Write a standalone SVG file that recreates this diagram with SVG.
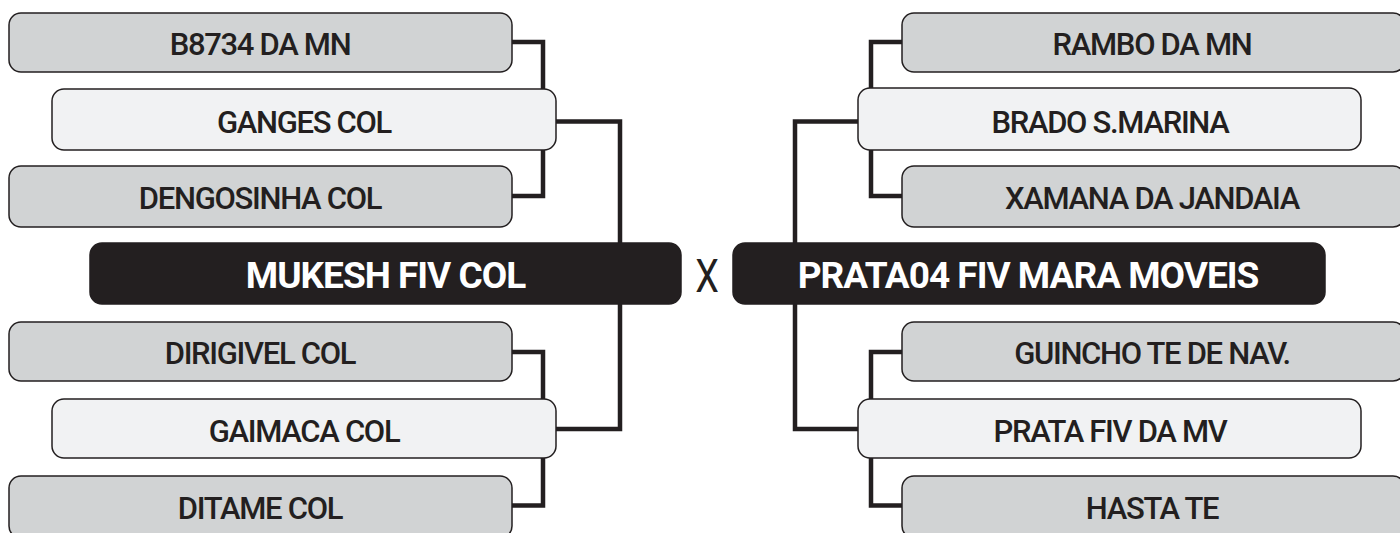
<svg xmlns="http://www.w3.org/2000/svg" width="1400" height="533" viewBox="0 0 1400 533">
<style>
.g{fill:#d1d3d4;stroke:#231f20;stroke-width:1.5}
.l{fill:#f1f2f3;stroke:#231f20;stroke-width:1.5}
.m{fill:#231f20;stroke:#231f20;stroke-width:1.5}
.t{font-family:Roboto,"Liberation Sans",sans-serif;font-weight:500;font-size:31px;fill:#231f20;text-anchor:middle;letter-spacing:-1.3px}
.tm{font-family:Roboto,"Liberation Sans",sans-serif;font-weight:700;font-size:37px;fill:#ffffff;text-anchor:middle;letter-spacing:-1px}
.c{fill:none;stroke:#231f20;stroke-width:4.5;stroke-linejoin:miter}
</style>
<rect width="1400" height="533" fill="#ffffff"/>
<g id="connectors">
<path class="c" d="M512 42H543V89M512 196H543V150M556 121.5H620V243M620 304V429H556M512 352H543V399M512 505.5H543V458"/>
<path class="c" d="M902 42H871V89M902 196H871V150M858 121.5H795V243M795 304V429H858M902 352H871V399M902 505.5H871V458"/>
</g>
<g id="n-b8734"><rect class="g" x="9" y="13" width="503" height="59" rx="12"/><text class="t" x="260" y="54.5">B8734 DA MN</text></g>
<g id="n-ganges"><rect class="l" x="52" y="89" width="504" height="61" rx="12"/><text class="t" x="304" y="132.5">GANGES COL</text></g>
<g id="n-dengosinha"><rect class="g" x="9" y="166" width="503" height="61" rx="12"/><text class="t" x="260" y="208.5">DENGOSINHA COL</text></g>
<g id="n-mukesh"><rect class="m" x="90" y="243" width="591" height="61" rx="12"/><text class="tm" x="385.5" y="288">MUKESH FIV COL</text></g>
<g id="n-dirigivel"><rect class="g" x="9" y="322" width="503" height="59" rx="12"/><text class="t" x="260" y="363.5">DIRIGIVEL COL</text></g>
<g id="n-gaimaca"><rect class="l" x="52" y="399" width="504" height="59" rx="12"/><text class="t" x="304" y="441.5">GAIMACA COL</text></g>
<g id="n-ditame"><rect class="g" x="9" y="476" width="503" height="62" rx="12"/><text class="t" x="260" y="518.5">DITAME COL</text></g>
<text id="vs" transform="translate(707 292) scale(0.82 1)" font-family="Roboto,'Liberation Sans',sans-serif" font-size="46" fill="#231f20" text-anchor="middle">X</text>
<g id="n-rambo"><rect class="g" x="902" y="13" width="503" height="59" rx="12"/><text class="t" x="1152" y="54.5">RAMBO DA MN</text></g>
<g id="n-brado"><rect class="l" x="858" y="88" width="503" height="62" rx="12"/><text class="t" x="1110" y="132.5">BRADO S.MARINA</text></g>
<g id="n-xamana"><rect class="g" x="902" y="166" width="503" height="61" rx="12"/><text class="t" x="1152" y="208.5">XAMANA DA JANDAIA</text></g>
<g id="n-prata04"><rect class="m" x="733" y="243" width="592" height="61" rx="12"/><text class="tm" x="1028" y="288">PRATA04 FIV MARA MOVEIS</text></g>
<g id="n-guincho"><rect class="g" x="902" y="322" width="503" height="59" rx="12"/><text class="t" x="1152" y="363.5">GUINCHO TE DE NAV.</text></g>
<g id="n-prata-fiv"><rect class="l" x="858" y="399" width="503" height="59" rx="12"/><text class="t" x="1110" y="441.5">PRATA FIV DA MV</text></g>
<g id="n-hasta"><rect class="g" x="902" y="476" width="503" height="62" rx="12"/><text class="t" x="1152" y="518.5">HASTA TE</text></g>
</svg>
